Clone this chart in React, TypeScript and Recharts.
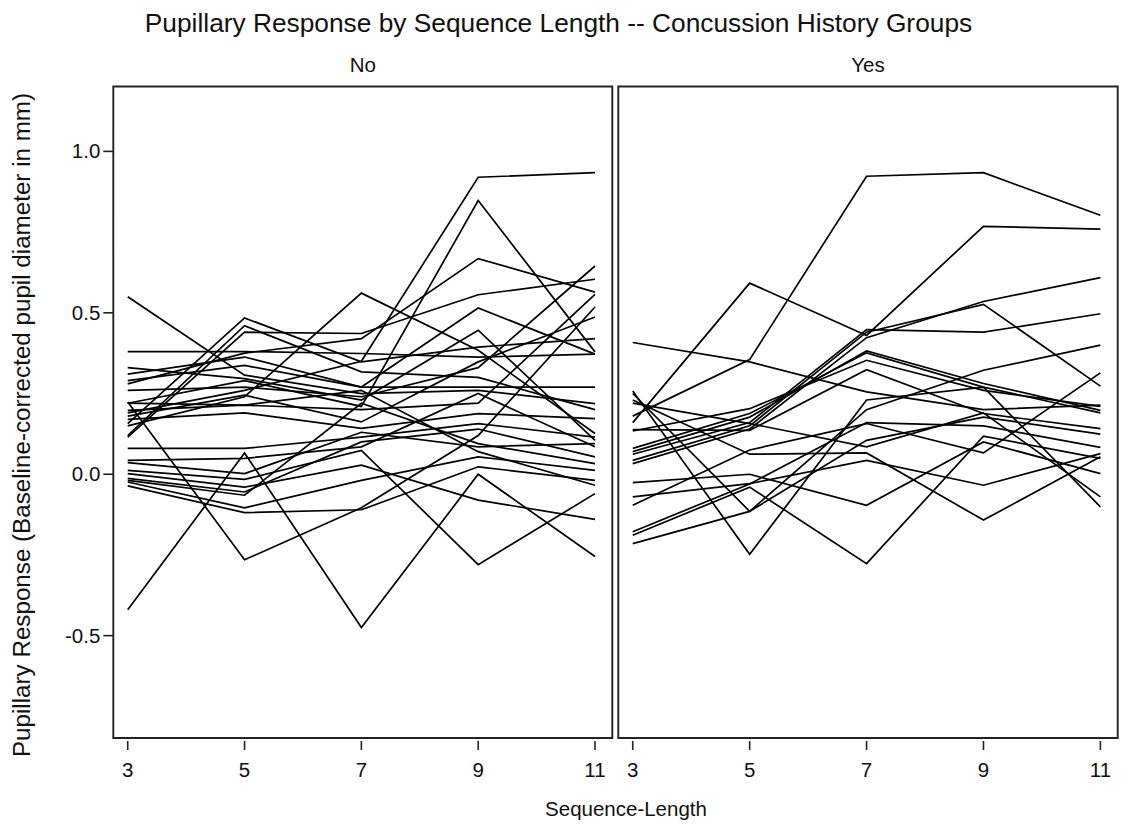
import React from 'react';
import { LineChart, Line, XAxis, YAxis, ReferenceArea } from 'recharts';

const sequenceLengths = [3, 5, 7, 9, 11];
const yTicks = [-0.5, 0, 0.5, 1.0];

// one row per subject: pupil response at sequence length 3, 5, 7, 9, 11
const noHistory: number[][] = [
  [0.55, 0.307, 0.25, 0.26, 0.219],
  [0.38, 0.38, 0.374, 0.363, 0.372],
  [0.157, 0.484, 0.348, 0.394, 0.42],
  [0.12, 0.46, 0.317, 0.3, 0.2],
  [0.115, 0.44, 0.436, 0.556, 0.604],
  [0.19, 0.26, 0.35, 0.92, 0.934],
  [0.22, 0.29, 0.21, 0.848, 0.379],
  [0.28, 0.375, 0.42, 0.668, 0.564],
  [0.15, 0.24, 0.561, 0.384, 0.126],
  [0.31, 0.363, 0.27, 0.515, 0.372],
  [0.33, 0.296, 0.23, 0.446, 0.105],
  [0.29, 0.337, 0.27, 0.27, 0.27],
  [0.26, 0.27, 0.24, 0.33, 0.645],
  [0.198, 0.214, 0.2, 0.22, 0.557],
  [0.224, -0.265, -0.104, 0.12, 0.518],
  [0.18, 0.245, 0.162, 0.348, 0.487],
  [0.17, 0.19, 0.142, 0.188, 0.172],
  [0.08, 0.08, 0.115, 0.157, 0.115],
  [-0.42, 0.066, -0.475, 0.0, -0.255],
  [0.043, 0.049, 0.085, 0.25, 0.085],
  [0.036, 0.002, 0.13, 0.085, 0.095],
  [0.012, -0.016, 0.074, -0.28, -0.06],
  [0.002, -0.04, 0.028, -0.08, -0.14],
  [-0.013, -0.055, 0.1, 0.14, 0.054],
  [-0.019, -0.065, 0.22, 0.095, 0.033],
  [-0.024, -0.104, -0.019, 0.054, 0.012],
  [-0.036, -0.119, -0.11, 0.023, -0.019],
  [0.22, 0.214, 0.26, 0.07, -0.034],
];

const yesHistory: number[][] = [
  [0.18, 0.355, 0.923, 0.934, 0.802],
  [0.16, 0.592, 0.43, 0.768, 0.759],
  [0.043, 0.15, 0.44, 0.526, 0.273],
  [0.062, 0.16, 0.448, 0.44, 0.497],
  [0.033, 0.14, 0.423, 0.535, 0.609],
  [0.408, 0.348, 0.255, 0.2, 0.214],
  [0.07, 0.177, 0.382, 0.281, 0.198],
  [0.08, 0.188, 0.376, 0.27, 0.19],
  [0.134, 0.203, 0.353, 0.26, 0.21],
  [0.138, 0.136, 0.324, 0.188, 0.141],
  [0.258, -0.248, 0.23, 0.27, -0.101],
  [0.25, -0.115, 0.2, 0.322, 0.4],
  [-0.215, -0.115, 0.105, 0.177, 0.124],
  [-0.178, -0.03, 0.16, 0.15, 0.083],
  [-0.189, -0.04, -0.277, 0.118, 0.049],
  [0.23, 0.062, 0.066, -0.142, 0.054],
  [-0.026, 0.0, -0.096, 0.1, 0.002],
  [0.22, 0.157, 0.085, 0.19, -0.07],
  [-0.07, -0.029, 0.043, -0.034, 0.064],
  [-0.096, 0.075, 0.157, 0.066, 0.314],
];

const X_DOMAIN: [number, number] = [2.753, 11.296];
const Y_DOMAIN: [number, number] = [-0.817, 1.201];
const FONT = '"Liberation Sans", Arial, Helvetica, sans-serif';
const INK = '#111';

function toRows(subjects: number[][]) {
  return sequenceLengths.map((len, i) => {
    const row: Record<string, number> = { len };
    subjects.forEach((s, j) => {
      row[`s${j}`] = s[i];
    });
    return row;
  });
}

function XTick({ x, y, payload }: any) {
  return (
    <g>
      <line x1={x} x2={x} y1={y + 3} y2={y + 12} stroke="#222" strokeWidth={1.6} />
      <text x={x} y={y + 39} textAnchor="middle" fontSize={20.5} fontFamily={FONT} fill={INK}>
        {payload.value}
      </text>
    </g>
  );
}

function YTick({ x, y, payload }: any) {
  return (
    <g>
      <line x1={x - 10} x2={x} y1={y} y2={y} stroke="#222" strokeWidth={1.6} />
      <text x={x - 13} y={y + 7} textAnchor="end" fontSize={20.5} fontFamily={FONT} fill={INK}>
        {Number(payload.value).toFixed(1)}
      </text>
    </g>
  );
}

interface PanelProps {
  subjects: number[][];
  left: number;
  width: number;
  margin: { top: number; right: number; bottom: number; left: number };
  showYAxis: boolean;
}

function Panel({ subjects, left, width, margin, showYAxis }: PanelProps) {
  const rows = toRows(subjects);
  return (
    <div style={{ position: 'absolute', left, top: 0 }}>
      <LineChart width={width} height={825} data={rows} margin={margin}>
        <XAxis
          type="number"
          dataKey="len"
          domain={X_DOMAIN}
          ticks={sequenceLengths}
          interval={0}
          allowDataOverflow
          height={40}
          axisLine={false}
          tickLine={false}
          tickSize={0}
          tickMargin={0}
          tick={<XTick />}
        />
        <YAxis
          type="number"
          domain={Y_DOMAIN}
          ticks={yTicks}
          interval={0}
          allowDataOverflow
          width={60}
          hide={!showYAxis}
          axisLine={false}
          tickLine={false}
          tickSize={0}
          tickMargin={0}
          tick={<YTick />}
        />
        {subjects.map((_, j) => (
          <Line
            key={j}
            type="linear"
            dataKey={`s${j}`}
            stroke="#000"
            strokeWidth={1.7}
            dot={false}
            activeDot={false}
            isAnimationActive={false}
          />
        ))}
        <ReferenceArea
          x1={X_DOMAIN[0]}
          x2={X_DOMAIN[1]}
          y1={Y_DOMAIN[0]}
          y2={Y_DOMAIN[1]}
          fill="none"
          fillOpacity={0}
          stroke="#222"
          strokeWidth={1.9}
          ifOverflow="visible"
        />
      </LineChart>
    </div>
  );
}

export default function App() {
  return (
    <div
      style={{
        position: 'absolute',
        left: 0,
        top: 0,
        width: 1127,
        height: 825,
        background: '#fff',
        fontFamily: FONT,
      }}
    >
      <Panel
        subjects={noHistory}
        left={0}
        width={620}
        margin={{ top: 86.5, right: 7.7, bottom: 47, left: 53.3 }}
        showYAxis
      />
      <Panel
        subjects={yesHistory}
        left={614}
        width={513}
        margin={{ top: 86.5, right: 9.3, bottom: 47, left: 4.3 }}
        showYAxis={false}
      />

      {/* titles and strip labels */}
      <svg
        width={1127}
        height={825}
        style={{ position: 'absolute', left: 0, top: 0, pointerEvents: 'none' }}
      >
        <text x={558.5} y={32} textAnchor="middle" fontSize={26.3} fontFamily={FONT} fill={INK}>
          Pupillary Response by Sequence Length -- Concussion History Groups
        </text>
        <text x={362.8} y={72} textAnchor="middle" fontSize={20.5} fontFamily={FONT} fill={INK}>
          No
        </text>
        <text x={868} y={72} textAnchor="middle" fontSize={20.5} fontFamily={FONT} fill={INK}>
          Yes
        </text>
        <text x={626} y={816} textAnchor="middle" fontSize={20.5} fontFamily={FONT} fill={INK}>
          Sequence-Length
        </text>
        <text
          transform="translate(30,425) rotate(-90)"
          textAnchor="middle"
          fontSize={24.2}
          fontFamily={FONT}
          fill={INK}
        >
          Pupillary Response (Baseline-corrected pupil diameter in mm)
        </text>
      </svg>
    </div>
  );
}
